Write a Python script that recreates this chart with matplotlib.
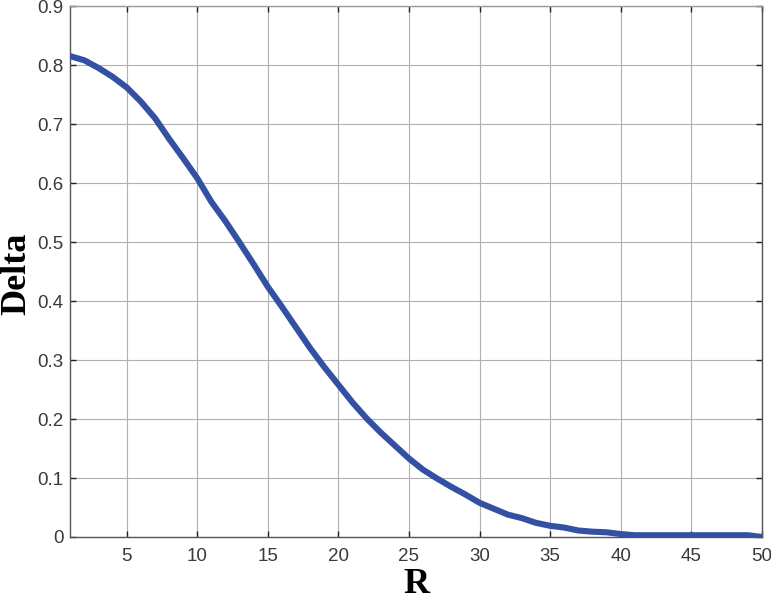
import matplotlib.pyplot as plt
import matplotlib as mp
import numpy as np

mp.rcParams['font.family'] = ['Liberation Sans', 'DejaVu Sans']

# Delta versus R
r = np.arange(1, 51)
delta = [0.815, 0.808, 0.795, 0.780, 0.762, 0.738, 0.710, 0.675, 0.642, 0.608,
         0.568, 0.535, 0.499, 0.462, 0.424, 0.390, 0.355, 0.320, 0.288, 0.258,
         0.228, 0.201, 0.177, 0.155, 0.133, 0.114, 0.099, 0.085, 0.072, 0.058,
         0.048, 0.038, 0.032, 0.024, 0.019, 0.016, 0.011, 0.009, 0.008, 0.005,
         0.003, 0.003, 0.003, 0.003, 0.003, 0.003, 0.003, 0.003, 0.003, 0.000]
xticks = [5, 10, 15, 20, 25, 30, 35, 40, 45, 50]
yticks = [0, 0.1, 0.2, 0.3, 0.4, 0.5, 0.6, 0.7, 0.8, 0.9]

fig = plt.figure(figsize=(7.71, 6.05), dpi=100)
ax = fig.add_axes((0.0912, 0.1124, 0.8968, 0.8776))

ax.plot(r, delta, color='#3450a2', lw=4.4, solid_joinstyle='round', zorder=3)

ax.set_xlim(1, 50)
ax.set_ylim(0, 0.9)
ax.set_xticks(xticks)
ax.set_yticks(yticks)
ax.set_yticklabels(['0' if v == 0 else '%g' % v for v in yticks])
ax.grid(True, color='#b0b0b0', lw=0.8)

ax.tick_params(direction='in', length=4, width=1.0, color='#222222',
               top=True, right=True, labelsize=13.5, labelcolor='#3a3a3a')
ax.tick_params(axis='y', pad=5)
ax.tick_params(axis='x', pad=8)
for s in ax.spines.values():
    s.set_color('#555555')
    s.set_linewidth(1.0)
ax.spines['top'].set_color('#999999')

ax.set_xlabel('R', family='Liberation Serif', fontweight='bold', fontsize=26,
              va='center')
ax.set_ylabel('Delta', family='Liberation Serif', fontweight='bold', fontsize=26,
              ha='center', va='center')
ax.xaxis.set_label_coords(0.5, -0.09)
ax.yaxis.set_label_coords(-0.077, 0.495)

fig.savefig('out.png', dpi=100)
